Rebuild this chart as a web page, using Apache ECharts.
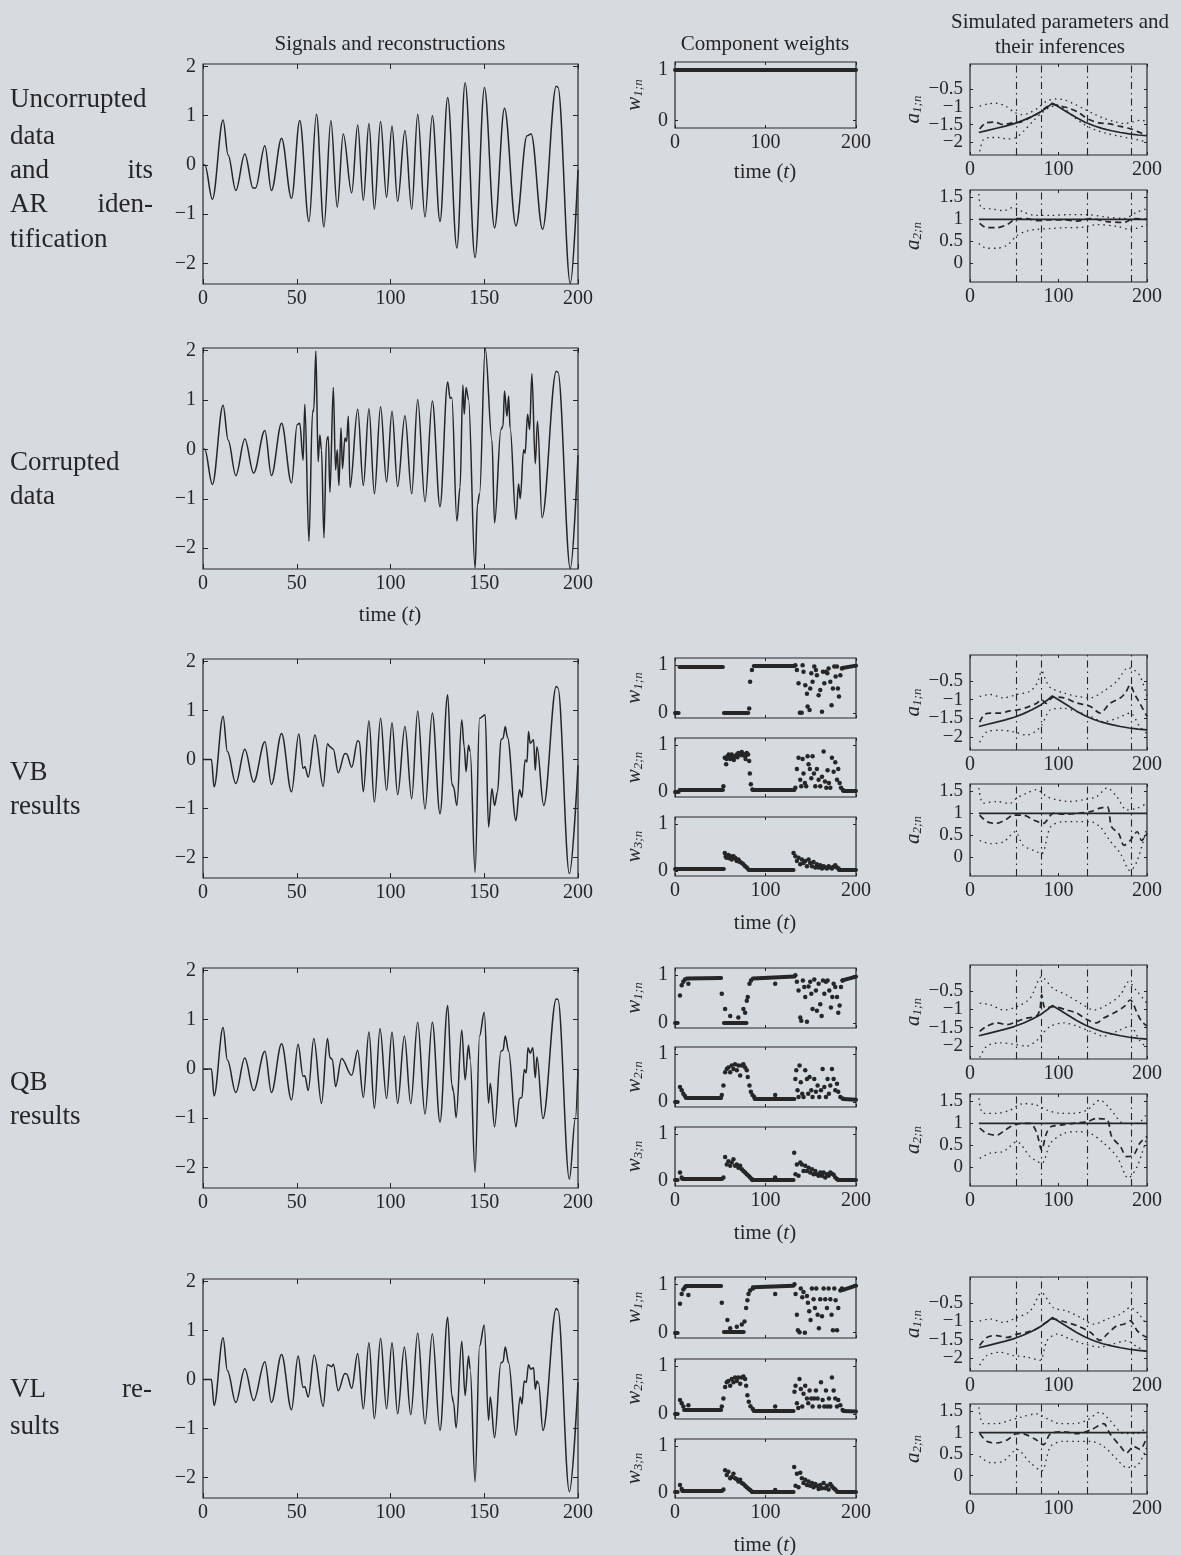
<!DOCTYPE html>
<html><head><meta charset="utf-8">
<script src="https://cdn.jsdelivr.net/npm/echarts@6/dist/echarts.min.js"></script>
<style>html,body{margin:0;padding:0;background:#d6dbe0;}#c{width:1181px;height:1555px;}</style>
</head><body><div id="c"></div>
<script>
// ---------------- DATA ----------------
const rowLabels = ['Uncorrupted data and its AR identification', 'Corrupted data', 'VB results', 'QB results', 'VL results'];
const sigYTicks = [-2, -1, 0, 1, 2];
const wYTicks = [0, 1];
const a1Ticks = [-2, -1.5, -1, -0.5];
const a2Ticks = [0, 0.5, 1, 1.5];
const changePoints = [52, 81, 132, 182];

const sigUncorrupted = [[0,0],[1,0],[5,-0.7],[10.7,0.91],[13.4,0.2],[17.5,-0.52],[22.3,0.22],[26.7,-0.47],[28,-0.47],[33,0.39],[36.5,-0.52],[41.9,0.54],[47.2,-0.68],[51.6,0.9],[56.5,-1.15],[60.5,1.03],[64.5,-1.26],[68.2,0.9],[71.6,-0.86],[74.8,0.63],[79.3,-0.57],[82.5,0.81],[85.5,-0.72],[88.5,0.84],[91.4,-0.9],[94.7,0.88],[97.9,-0.66],[100.8,0.79],[103.8,-0.74],[107.7,0.7],[111.3,-0.9],[114.5,1.03],[118.4,-1.06],[122.3,1.0],[126.4,-1.15],[130.5,1.37],[135.4,-1.69],[139.8,1.67],[145.1,-1.88],[150.1,1.57],[155.5,-1.28],[160.8,1.15],[166.9,-1.24],[172.8,0.59],[175,0.63],[181.1,-1.31],[188.4,1.6],[189.3,1.58],[195.9,-2.41],[200,-0.1]];
const sigCorrupted = [[0,0],[0.9,0],[5,-0.71],[10.7,0.89],[13.4,0.19],[17.5,-0.53],[22.3,0.21],[27,-0.48],[33,0.38],[36.5,-0.53],[41.9,0.53],[47.2,-0.68],[50.2,0.5],[51.6,0.53],[53.4,-0.22],[54.3,0.91],[56.5,-1.86],[58.4,0.74],[59.1,0.81],[60.2,1.99],[61.4,-0.25],[62.3,0.29],[63.2,-0.01],[64.5,-1.79],[65.9,0.19],[66.8,0.26],[67.7,-0.87],[69.5,1.25],[70.7,-0.42],[71.6,-0.01],[72.5,-0.73],[73.6,0.43],[74.4,-0.39],[75.7,0.23],[76.6,0.16],[77.5,0.67],[78.4,-0.77],[82.5,0.81],[85.5,-0.73],[88.5,0.82],[91.4,-0.9],[94.7,0.86],[97.9,-0.66],[100.8,0.77],[103.8,-0.75],[107.7,0.68],[111.3,-0.9],[114.5,1.01],[118.4,-1.06],[122.3,0.98],[126.4,-1.16],[130.5,1.36],[131.8,1.03],[132.7,1.05],[135.4,-1.45],[137.1,-0.77],[138.6,1.3],[139.3,0.71],[140.3,1.25],[141.6,1.01],[145.1,-2.4],[146.4,-1.11],[147.5,-0.9],[150.5,2.05],[154.1,0.19],[155.5,-1.49],[158.9,0.4],[160,0.47],[160.8,1.18],[162.1,0.67],[163,1.08],[163.8,0.43],[166.9,-1.42],[168.3,-0.7],[169.2,-1.0],[171,-0.01],[171.8,-0.08],[173.1,0.71],[174.2,0.4],[175.4,1.53],[177.2,-0.29],[178.4,0.57],[180.8,-1.38],[188.4,1.58],[189.3,1.56],[195.9,-2.41],[200,-0.12]];
const sigVB = [[0,0],[4.5,0],[5.9,-0.56],[10.7,0.88],[13,0.16],[17.5,-0.49],[22.3,0.21],[27,-0.46],[33,0.36],[36.5,-0.51],[41.9,0.53],[47.2,-0.66],[51.1,0.52],[53.4,-0.18],[54.3,-0.15],[56.1,-0.36],[59.7,0.5],[64.1,-0.55],[66.4,0.32],[67.7,0.26],[69.5,0.21],[72.1,-0.27],[75.7,0.12],[76.6,0.11],[79.3,-0.16],[82.5,0.38],[83.4,0.36],[85.5,-0.66],[88.5,0.79],[91.4,-0.87],[94.7,0.84],[97.9,-0.63],[100.8,0.75],[103.8,-0.72],[107.7,0.67],[111.3,-0.8],[114.5,0.99],[118.4,-1.01],[122.3,0.95],[126.4,-1.11],[130.5,1.32],[132.7,-0.49],[133.6,-0.56],[135.4,-0.94],[138,0.81],[139.3,0.26],[140.3,-0.25],[141.6,0.29],[142.5,0.16],[145.1,-2.31],[147.5,0.84],[150.5,0.91],[152.3,-1.38],[154.1,-0.6],[155.5,-0.94],[157.1,-0.66],[158.9,0.4],[160,0.43],[161.2,0.67],[162.4,0.45],[166.9,-1.25],[168.8,-0.62],[170.1,-0.77],[171.8,-0.01],[172.8,-0.05],[173.6,0.57],[174.5,0.33],[176.3,0.4],[177.2,-0.22],[178.1,0.26],[181.7,-0.94],[188.4,1.49],[189.3,1.46],[195.4,-2.33],[200,-0.12]];
const sigQB = [[0,0],[4.5,0],[5.9,-0.55],[10.7,0.84],[13,0.18],[17.5,-0.48],[22.3,0.22],[27,-0.44],[33,0.36],[36.5,-0.48],[41.9,0.51],[47.2,-0.63],[50.7,0.5],[53.4,-0.15],[54.3,-0.14],[56.1,-0.44],[59.1,0.62],[63.2,-0.7],[66.4,0.62],[67.7,0.23],[69,0.19],[70.7,-0.36],[73.9,0.21],[79.3,-0.13],[82.5,0.38],[85.5,-0.58],[88.5,0.75],[91.4,-0.8],[94.4,0.82],[97.9,-0.6],[100.8,0.75],[103.8,-0.7],[107.4,0.67],[110.8,-0.71],[114.5,0.95],[118.4,-0.92],[122.3,0.95],[126.4,-1.08],[130.5,1.29],[132.7,-0.32],[133.6,-0.46],[135,-0.99],[138,0.79],[139.8,-0.22],[141.6,0.48],[142.5,0.19],[145.1,-2.1],[147.5,0.67],[150,1.15],[152.3,-0.7],[153.2,-0.29],[155.5,-1.18],[158.9,0.36],[160,0.38],[161.2,0.67],[163,0.36],[166.9,-1.18],[168.8,-0.6],[170.1,-0.58],[171.3,-0.01],[172.4,-0.08],[173.3,0.43],[174.5,0.32],[175.9,0.43],[177.2,-0.18],[178.1,0.24],[181.3,-1.01],[188.4,1.42],[189.3,1.41],[195.4,-2.24],[198.6,-1.01],[200,0]];
const sigVL = [[0,0],[4.5,0],[5.9,-0.53],[10.7,0.85],[13,0.18],[17.5,-0.47],[22.3,0.22],[27,-0.43],[33,0.36],[36.5,-0.47],[41.9,0.51],[47.2,-0.62],[50.7,0.48],[53.4,-0.16],[54.3,-0.15],[56.1,-0.36],[59.3,0.5],[64.1,-0.55],[66.4,0.3],[67.7,0.28],[68.6,0.26],[69.5,0.31],[72.1,-0.23],[75.7,0.12],[76.6,0.11],[79.3,-0.18],[82.5,0.53],[85.5,-0.6],[88.5,0.75],[91.4,-0.8],[94.7,0.84],[97.9,-0.6],[100.8,0.75],[103.8,-0.7],[107.4,0.66],[110.8,-0.72],[114.5,0.95],[118.4,-0.91],[122.3,0.93],[126.4,-1.04],[130.5,1.27],[132.7,-0.33],[133.6,-0.47],[135,-0.99],[138,0.78],[139.8,-0.33],[141.6,0.48],[142.5,0.21],[145.1,-2.09],[147.5,0.68],[150,1.11],[152.3,-0.84],[153.2,-0.36],[155.5,-1.19],[158.9,0.34],[160,0.36],[161.2,0.66],[163,0.34],[166.9,-1.14],[169.2,-0.36],[170.1,-0.5],[171.3,-0.03],[172.4,-0.06],[173.6,0.3],[174.8,0.21],[176.3,0.24],[177.2,-0.2],[178.1,-0.03],[179,-0.09],[181.3,-1.04],[188.4,1.45],[189.3,1.41],[195.4,-2.29],[200,-0.06]];

// true AR parameters
const trueA1 = [[10,-1.72],[20,-1.66],[30,-1.6],[40,-1.54],[50,-1.47],[60,-1.38],[70,-1.27],[80,-1.14],[88,-1.0],[93,-0.9],[100,-1.0],[110,-1.15],[120,-1.3],[130,-1.43],[140,-1.53],[150,-1.61],[160,-1.67],[170,-1.72],[180,-1.76],[190,-1.79],[200,-1.81]];
const trueA2 = [[10,1],[200,1]];

// AR identification of uncorrupted data
const a1Est_AR = [[11,-1.62],[18,-1.45],[28,-1.43],[38,-1.5],[48,-1.45],[58,-1.42],[68,-1.3],[78,-1.17],[87,-1.0],[94,-0.93],[102,-0.98],[112,-1.04],[122,-1.15],[134,-1.35],[146,-1.45],[158,-1.48],[170,-1.55],[182,-1.62],[192,-1.72],[200,-1.8]];
const a1Hi_AR = [[11,-0.98],[20,-0.92],[30,-0.9],[40,-0.98],[50,-1.15],[58,-1.22],[66,-1.18],[76,-1.05],[86,-0.85],[96,-0.78],[106,-0.8],[116,-0.9],[128,-1.05],[140,-1.2],[152,-1.33],[164,-1.42],[174,-1.47],[184,-1.42],[192,-1.38],[200,-1.4]];
const a1Lo_AR = [[11,-2.25],[15,-1.92],[22,-1.86],[32,-1.86],[42,-1.9],[52,-1.86],[62,-1.65],[72,-1.38],[82,-1.15],[90,-1.02],[98,-0.96],[108,-1.08],[118,-1.3],[128,-1.48],[140,-1.63],[155,-1.75],[168,-1.82],[180,-1.88],[190,-1.93],[200,-1.98]];
const a2Est_AR = [[11,0.91],[19,0.81],[30,0.81],[42,0.88],[53,1.02],[64,1.02],[75,0.97],[91,0.99],[106,0.99],[121,0.96],[136,1.02],[155,0.95],[174,0.93],[185,1.02],[200,1.0]];
const a2Hi_AR = [[10,1.58],[13,1.26],[23,1.24],[38,1.2],[49,1.27],[60,1.17],[75,1.09],[91,1.09],[113,1.11],[132,1.11],[151,1.06],[174,1.02],[189,1.17],[200,1.24]];
const a2Lo_AR = [[10,0.45],[19,0.34],[30,0.34],[42,0.41],[53,0.63],[64,0.73],[75,0.77],[91,0.79],[106,0.81],[128,0.82],[143,0.88],[166,0.84],[181,0.77],[200,0.88]];

// VB
const a1Est_VB = [[11,-1.6],[16,-1.4],[23,-1.36],[34,-1.36],[45,-1.3],[55,-1.27],[65,-1.2],[75,-1.1],[81,-1.0],[86,-1.1],[94,-0.93],[106,-0.95],[121,-1.09],[136,-1.18],[147,-1.36],[158,-1.1],[170,-0.95],[176,-0.8],[181,-0.6],[186,-0.85],[192,-1.1],[200,-1.45]];
const a1Hi_VB = [[11,-0.91],[23,-0.86],[38,-0.95],[53,-0.86],[68,-0.77],[76,-0.55],[81,-0.23],[86,-0.5],[91,-0.68],[106,-0.82],[121,-0.91],[136,-0.95],[151,-0.77],[166,-0.5],[179,-0.14],[191,-0.32],[200,-0.91]];
const a1Lo_VB = [[11,-2.14],[19,-1.86],[34,-1.82],[49,-1.86],[64,-1.95],[74,-1.85],[81,-1.68],[91,-1.27],[106,-1.23],[121,-1.32],[136,-1.45],[151,-1.59],[166,-1.5],[181,-1.36],[192,-1.73],[200,-1.91]];
const a2Est_VB = [[11,0.96],[19,0.81],[30,0.77],[40,0.85],[49,0.96],[60,0.96],[72,0.85],[83,0.77],[94,1.0],[106,0.98],[121,1.0],[136,1.04],[147,1.12],[155,1.15],[160,0.69],[168,0.54],[174,0.27],[181,0.38],[189,0.58],[194,0.38],[200,0.55]];
const a2Hi_VB = [[10,1.58],[15,1.23],[30,1.27],[45,1.23],[53,1.35],[64,1.46],[75,1.54],[87,1.38],[98,1.31],[113,1.27],[128,1.31],[143,1.38],[155,1.58],[166,1.38],[177,1.08],[189,1.12],[200,1.23]];
const a2Lo_VB = [[11,0.38],[23,0.31],[38,0.35],[51,0.58],[60,0.27],[72,0.15],[81,0.08],[91,0.69],[106,0.81],[121,0.81],[136,0.81],[147,0.69],[158,0.38],[170,0.08],[181,-0.31],[189,-0.08],[200,0.69]];

// QB
const a1Est_QB = [[11,-1.6],[19,-1.46],[30,-1.37],[42,-1.42],[53,-1.33],[64,-1.24],[75,-1.19],[79,-1.0],[81,-0.61],[85,-0.97],[94,-0.93],[109,-1.02],[121,-1.11],[132,-1.28],[143,-1.37],[151,-1.24],[162,-1.11],[174,-0.93],[181,-0.75],[189,-1.11],[194,-1.33],[200,-1.46]];
const a1Hi_QB = [[11,-0.84],[23,-0.88],[38,-1.02],[53,-0.93],[68,-0.7],[81,-0.12],[94,-0.44],[109,-0.61],[125,-0.84],[140,-1.02],[155,-0.88],[170,-0.61],[179,-0.26],[189,-0.52],[200,-0.84]];
const a1Lo_QB = [[11,-2.31],[19,-2.0],[34,-1.91],[49,-1.95],[64,-2.0],[75,-1.86],[81,-1.69],[91,-1.46],[106,-1.37],[121,-1.46],[136,-1.6],[151,-1.73],[166,-1.6],[181,-1.46],[192,-1.86],[200,-2.04]];
const a2Est_QB = [[11,0.89],[19,0.77],[30,0.73],[40,0.85],[49,0.96],[60,1.0],[68,1.0],[75,0.81],[81,0.39],[86,0.75],[91,0.92],[102,0.96],[117,1.0],[132,1.04],[143,1.11],[155,1.08],[160,0.7],[170,0.47],[177,0.24],[185,0.28],[192,0.55],[200,0.7]];
const a2Hi_QB = [[10,1.57],[15,1.23],[30,1.23],[45,1.3],[60,1.45],[75,1.42],[87,1.3],[102,1.23],[117,1.23],[132,1.3],[147,1.53],[158,1.34],[174,1.0],[189,1.0],[200,1.23]];
const a2Lo_QB = [[11,0.2],[23,0.32],[38,0.36],[53,0.58],[68,0.24],[81,0.09],[91,0.55],[106,0.77],[121,0.81],[136,0.77],[151,0.55],[166,0.24],[179,-0.25],[189,0.02],[200,0.7]];

// VL
const a1Est_VL = [[11,-1.66],[19,-1.44],[30,-1.39],[42,-1.44],[53,-1.35],[64,-1.3],[75,-1.21],[83,-1.08],[94,-0.94],[109,-1.03],[121,-1.12],[136,-1.3],[147,-1.52],[155,-1.35],[166,-1.12],[174,-1.08],[181,-0.99],[189,-1.26],[196,-1.39],[200,-1.44]];
const a1Hi_VL = [[11,-0.99],[23,-0.94],[38,-1.03],[53,-0.9],[68,-0.72],[81,-0.23],[94,-0.63],[109,-0.72],[125,-0.9],[140,-1.08],[155,-0.94],[170,-0.81],[181,-0.63],[191,-0.81],[200,-1.12]];
const a1Lo_VL = [[11,-2.19],[19,-1.93],[34,-1.84],[49,-1.93],[64,-1.97],[79,-2.06],[87,-1.53],[98,-1.35],[113,-1.48],[128,-1.61],[147,-1.7],[162,-1.61],[177,-1.53],[189,-1.7],[200,-1.84]];
const a2Est_VL = [[11,0.98],[19,0.8],[30,0.76],[42,0.83],[53,0.98],[64,0.95],[75,0.83],[83,0.72],[91,0.98],[106,1.02],[121,0.98],[136,1.06],[151,1.21],[158,0.98],[170,0.68],[177,0.53],[185,0.68],[192,0.61],[200,0.91]];
const a2Hi_VL = [[10,1.59],[15,1.21],[30,1.21],[45,1.29],[57,1.36],[75,1.44],[87,1.33],[102,1.21],[117,1.21],[132,1.29],[147,1.48],[158,1.29],[174,0.98],[189,0.98],[200,1.14]];
const a2Lo_VL = [[11,0.45],[23,0.3],[38,0.34],[53,0.61],[68,0.3],[81,0.11],[91,0.68],[106,0.8],[121,0.8],[136,0.8],[151,0.68],[166,0.38],[177,0.19],[189,0.23],[200,0.68]];

// component weights: flat runs [t0, w0, t1, w1] and individual points [t, w]
const w1Flat_AR = [[0,1,200,1]];

const w1Flat_VB = [[0,0,4,0],[5,0.97,53,0.97],[54,0.01,81,0.01],[87,0.99,132,0.99],[185,0.94,200,0.99]];
const w1Dots_VB = [[82,0.09],[83,0.65],[85,0.9],[133,1.0],[134.7,0.9],[136.5,0.62],[138,0],[140,0],[141,1.0],[142,0.86],[144,0.58],[145.8,0.4],[146.5,0.13],[148.7,0.06],[149.4,0.51],[150.6,0.83],[152,0.65],[153.9,0.97],[155.7,0.9],[156.8,0.79],[158.7,0.37],[160.5,0.48],[162.4,0.02],[163.5,0.86],[165,0.62],[166.8,0.86],[168.3,0.83],[169.7,0.93],[171.6,0.65],[173,0.16],[174.5,0.51],[176,0.97],[177.5,0.76],[179,0.97],[180,0.51],[181.2,0.34],[182.7,0.79],[184.5,0.93]];
const w2Flat_VB = [[0,0,4,0],[5,0.05,53,0.05],[86,0.04,132,0.04],[186,0.03,200,0.03]];
const w2Dots_VB = [[53.5,0.12],[55,0.73],[56.5,0.59],[57,0.7],[58,0.76],[59.4,0.8],[60.9,0.7],[61,0.76],[62.7,0.8],[64.6,0.73],[65,0.68],[66.4,0.76],[68.3,0.8],[69,0.74],[70.1,0.83],[72,0.8],[73.8,0.85],[74,0.78],[75.6,0.81],[77.5,0.76],[78,0.7],[79.3,0.83],[80.8,0.8],[82,0.66],[82.7,0.39],[83.8,0.16],[85.6,0.05],[133,0.09],[134.7,0.49],[136.5,0.73],[138.4,0.26],[139.5,0.12],[141,0.7],[142,0.39],[143.5,0.19],[145,0.12],[146.5,0.76],[147.6,0.59],[149,0.49],[150.6,0.29],[152,0.76],[153.5,0.39],[155,0.12],[156.8,0.49],[158.7,0.26],[160.5,0.12],[162.4,0.32],[164.2,0.86],[165.7,0.22],[167.2,0.09],[168.6,0.46],[170.1,0.19],[171.6,0.09],[173.4,0.73],[175.3,0.43],[177.1,0.63],[179,0.26],[180.4,0.49],[181.9,0.19],[183.4,0.09],[185.6,0.04]];
const w3Flat_VB = [[0,0.04,54,0.04],[82,0.03,131,0.03],[181,0.03,200,0.03]];
const w3Dots_VB = [[55,0.38],[56,0.3],[57,0.28],[58,0.33],[59,0.34],[60,0.27],[61,0.31],[62.7,0.24],[63.5,0.3],[64.6,0.31],[66.4,0.28],[67.5,0.24],[68.3,0.21],[70.1,0.24],[71,0.2],[72,0.19],[73.8,0.17],[75.6,0.14],[77.5,0.1],[79.3,0.07],[81.2,0.03],[131,0.38],[133,0.31],[134.7,0.21],[136.5,0.28],[138.4,0.14],[140.2,0.24],[142,0.17],[143.9,0.21],[145.8,0.1],[147.6,0.24],[149.4,0.17],[151.3,0.1],[153.1,0.19],[155,0.07],[156.8,0.14],[158.7,0.07],[160.5,0.12],[162.4,0.05],[164.2,0.1],[166,0.07],[167.9,0.05],[169.7,0.1],[171.6,0.07],[173.4,0.05],[175.3,0.09],[177.1,0.12],[179,0.07],[180.8,0.05]];

const w1Flat_QB = [[0,0,3,0],[13,0.93,51,0.94],[54,0.01,79,0.01],[86,0.93,132,0.97],[185,0.89,200,0.97]];
const w1Dots_QB = [[5.5,0.57],[7.4,0.79],[9.2,0.86],[11,0.91],[14.8,0.82],[51.7,0.61],[55.4,0.29],[61,0.14],[70,0.11],[75.6,0.29],[77.5,0.21],[79.3,0.46],[80.4,0.54],[82.3,0.82],[84,0.89],[110.7,0.82],[133,1.0],[134.7,0.86],[136.5,0.68],[138.4,0.11],[139.5,0.04],[141.3,0.89],[142.8,0.75],[143.9,0.54],[145.8,0.02],[147.6,0.76],[149.4,0.86],[150.6,0.61],[152,0.29],[153.9,0.91],[155.7,0.68],[156.8,0.25],[158.7,0.82],[160.5,0.39],[162,0.14],[163.5,0.89],[165,0.61],[166.8,0.86],[168.6,0.89],[170.5,0.68],[172.3,0.32],[173.8,0.54],[175.3,0.82],[177.1,0.75],[179,0.54],[180.4,0.21],[181.9,0.36],[183.4,0.75],[185.2,0.89]];
const w2Flat_QB = [[0,0.01,3,0.01],[12,0.08,51,0.08],[88,0.07,132,0.07],[186,0.06,200,0.04]];
const w2Dots_QB = [[5.5,0.31],[7.4,0.24],[9.2,0.17],[11,0.12],[51.7,0.14],[53.5,0.34],[55.4,0.62],[57.2,0.69],[59,0.72],[61,0.62],[62.7,0.76],[64.6,0.69],[66.4,0.79],[68.3,0.66],[70.1,0.76],[72,0.55],[73.8,0.76],[75.6,0.79],[77.5,0.72],[79.3,0.66],[80.4,0.52],[82.3,0.34],[83.8,0.21],[85.6,0.14],[87.5,0.1],[110.7,0.14],[133,0.48],[134,0.66],[135.4,0.24],[136.5,0.1],[137.6,0.76],[139,0.41],[140.6,0.17],[142,0.1],[143.9,0.66],[145.8,0.48],[147.2,0.17],[148.7,0.52],[150.6,0.24],[152,0.1],[153.9,0.48],[155.7,0.21],[157.6,0.34],[159.4,0.1],[161.3,0.24],[163.1,0.69],[165,0.31],[166.8,0.1],[168.6,0.48],[170.1,0.17],[171.6,0.34],[173.4,0.69],[175.3,0.48],[177.1,0.24],[179,0.38],[180.4,0.21],[182.7,0.1],[185.2,0.07]];
const w3Flat_QB = [[0,0.02,3,0.02],[8,0.05,52,0.05],[85,0.03,131,0.03],[180,0.03,200,0.03]];
const w3Dots_QB = [[5.5,0.18],[7.4,0.07],[53.5,0.07],[55.4,0.51],[57.2,0.35],[59,0.42],[61,0.32],[62.7,0.39],[64.6,0.46],[66.4,0.32],[68.3,0.35],[70.1,0.28],[72,0.32],[73.8,0.25],[75.6,0.21],[77.5,0.18],[79.3,0.14],[81.2,0.11],[83,0.07],[84.9,0.04],[110.7,0.07],[131.7,0.6],[133.2,0.14],[134.7,0.35],[136.5,0.11],[138.4,0.39],[140.2,0.35],[142,0.21],[143.9,0.32],[145.8,0.21],[147.6,0.28],[149.4,0.18],[151.3,0.25],[153.1,0.14],[155,0.21],[156.8,0.14],[158.7,0.11],[160.5,0.18],[162.4,0.11],[164.2,0.18],[166,0.07],[167.9,0.14],[169.7,0.11],[171.6,0.18],[173.4,0.15],[175.3,0.13],[177.1,0.07],[179,0.04]];

const w1Flat_VL = [[0,0,3,0],[12,0.96,51,0.96],[54,0.02,76,0.02],[86,0.94,131,0.97],[185,0.88,200,0.97]];
const w1Dots_VL = [[5.5,0.6],[7.4,0.8],[9.2,0.89],[11,0.94],[14.8,0.78],[51.7,0.62],[57.9,0.26],[61,0.09],[68.3,0.12],[73.8,0.17],[76.8,0.23],[78.6,0.51],[80,0.67],[81.2,0.8],[83,0.87],[86,0.91],[110.7,0.8],[132,1.0],[133.2,0.8],[134.7,0.37],[135.8,0.05],[137.6,0.01],[139,0.91],[140.6,0.73],[142,0.84],[143.5,0],[145.8,0.76],[146.9,0.62],[148.3,0.44],[149.8,0.26],[151.3,0.91],[153.1,0.69],[154.6,0.51],[156.1,0.91],[157.6,0.37],[159,0.09],[160.5,0.69],[162.4,0.34],[164.2,0.91],[166,0.69],[167.9,0.51],[169.7,0.91],[171.6,0.69],[173,0.37],[174.5,0.05],[176,0.91],[177.5,0.67],[179,0.05],[180.4,0.51],[182.7,0.87],[184.5,0.91]];
const w2Flat_VL = [[0,0.01,3,0.01],[10,0.08,51,0.08],[87,0.07,131,0.07],[186,0.06,200,0.05]];
const w2Dots_VL = [[5.5,0.29],[7.4,0.22],[9.2,0.15],[14.8,0.18],[51.7,0.15],[53.5,0.32],[55.4,0.56],[57.2,0.66],[59,0.69],[61,0.59],[62.7,0.73],[64.6,0.66],[66.4,0.76],[68.3,0.69],[70.1,0.76],[72,0.63],[73.8,0.76],[75.6,0.78],[77.5,0.73],[78.6,0.59],[80,0.39],[81.5,0.25],[83.4,0.16],[86,0.1],[110.7,0.15],[132,0.46],[133.2,0.59],[134.7,0.22],[136.2,0.12],[137.6,0.73],[139,0.52],[140.6,0.15],[142,0.42],[143.9,0.59],[145.8,0.32],[147.2,0.22],[148.7,0.49],[150.6,0.32],[152,0.15],[153.9,0.32],[155.7,0.49],[157.6,0.32],[159.4,0.15],[161.3,0.66],[163.1,0.29],[165,0.15],[166.8,0.49],[168.6,0.15],[170.1,0.32],[171.6,0.15],[173.4,0.76],[175.3,0.49],[177.1,0.32],[179,0.15],[180.4,0.29],[182.7,0.18],[185.2,0.08]];
const w3Flat_VL = [[0,0.02,3,0.02],[8,0.05,52,0.05],[85,0.03,131,0.03],[180,0.03,200,0.03]];
const w3Dots_VL = [[5.5,0.17],[7.4,0.08],[53.5,0.07],[55.4,0.48],[57.2,0.38],[59,0.45],[61,0.31],[62.7,0.34],[64.6,0.41],[66.4,0.31],[68.3,0.29],[70.1,0.24],[72,0.28],[73.8,0.21],[75.6,0.19],[77.5,0.15],[79.3,0.12],[81.2,0.09],[83,0.06],[84.9,0.03],[110.7,0.06],[131.7,0.55],[133.2,0.15],[134.7,0.41],[136.5,0.12],[138.4,0.43],[140.2,0.31],[142,0.21],[143.9,0.28],[145.8,0.17],[147.6,0.24],[149.4,0.15],[151.3,0.21],[153.1,0.12],[155,0.19],[156.8,0.15],[158.7,0.08],[160.5,0.17],[162.4,0.1],[164.2,0.21],[166,0.1],[167.9,0.15],[169.7,0.07],[171.6,0.19],[173.4,0.14],[175.3,0.1],[177.1,0.07],[179,0.03]];

// ---------------- BUILD ----------------
const INK = '#262626';
const FONT = '"Liberation Serif", "Times New Roman", serif';
const grids = [], xAxes = [], yAxes = [], series = [];

function fmtNum(v) { return (v < 0 ? '\u2212' : '') + Math.abs(v); }

function addPanel(rect, o) {
  const gi = grids.length;
  grids.push({left: rect[0], top: rect[1], width: rect[2], height: rect[3], show: true,
    borderColor: INK, borderWidth: 1.2, backgroundColor: 'rgba(0,0,0,0)'});
  const xi = xAxes.length, yi = yAxes.length;
  const xb = () => ({type: 'value', gridIndex: gi, min: 0, max: 200, interval: o.xint,
    axisLine: {show: false, onZero: false}, splitLine: {show: false},
    axisTick: {show: true, inside: true, length: o.tick, lineStyle: {color: INK, width: 1}}});
  xAxes.push(Object.assign(xb(), {position: 'bottom',
    axisLabel: {show: o.xlabels !== false, color: INK, fontFamily: FONT, fontSize: 20, margin: 5,
      formatter: fmtNum, hideOverlap: false}}));
  xAxes.push(Object.assign(xb(), {position: 'top', axisLabel: {show: false}}));
  const yb = () => ({type: 'value', gridIndex: gi, min: o.ymin, max: o.ymax,
    axisLine: {show: false, onZero: false}, splitLine: {show: false},
    axisTick: {show: true, inside: true, length: o.tick, customValues: o.yticks, lineStyle: {color: INK, width: 1}}});
  // labels may be split over two co-located left axes so that closely spaced labels are all kept
  const labSets = o.ylabelSets || [o.yticks];
  const mkLabel = (vals) => ({show: true, customValues: vals, color: INK, fontFamily: FONT, fontSize: o.yfont || 20,
      interval: 0, margin: 7, formatter: fmtNum, hideOverlap: false, showMinLabel: true, showMaxLabel: true});
  const yl = Object.assign(yb(), {position: 'left', axisLabel: mkLabel(labSets[0])});
  if (o.name) {
    yl.name = '{i|' + o.name[0] + '}{s|' + o.name[1] + '}';
    yl.nameLocation = 'middle';
    yl.nameRotate = 90;
    yl.nameGap = o.nameGap;
    yl.nameTextStyle = {rich: {
      i: {fontFamily: FONT, fontStyle: 'italic', fontSize: 21, color: INK, lineHeight: 22, verticalAlign: 'middle'},
      s: {fontFamily: FONT, fontStyle: 'italic', fontSize: 13, color: INK, lineHeight: 12, verticalAlign: 'bottom'}
    }};
  }
  yAxes.push(yl);
  yAxes.push(Object.assign(yb(), {position: 'right', axisLabel: {show: false}}));
  for (let i = 1; i < labSets.length; i++) {
    yAxes.push(Object.assign(yb(), {position: 'left', offset: 0, axisTick: {show: false},
      axisLabel: mkLabel(labSets[i])}));
  }
  return {x: xi, y: yi};
}

function line(ax, data, style, extra) {
  const s = Object.assign({type: 'line', xAxisIndex: ax.x, yAxisIndex: ax.y, data: data,
    symbol: 'none', showSymbol: false, clip: true, silent: true, animation: false,
    lineStyle: Object.assign({color: INK, width: 1.5}, style)}, extra || {});
  series.push(s);
  return s;
}

// signal panels
const sigRects = [[203,64,375,220],[203,348,375,221],[203,659,375,219],[203,968,375,220],[203,1279,375,219]];
const signals = [sigUncorrupted, sigCorrupted, sigVB, sigQB, sigVL];
signals.forEach((sig, k) => {
  const ax = addPanel(sigRects[k], {xint: 50, ymin: -2.42, ymax: 2.05, yticks: sigYTicks, tick: 5});
  line(ax, sig, {width: 1.5}, {smooth: 0.35, smoothMonotone: 'x'});
});

// weight panels
function weightPanel(rect, k, flats, dots, ymin, ymax, xlabels) {
  const ax = addPanel(rect, {xint: 100, ymin: ymin, ymax: ymax, yticks: wYTicks, tick: 3,
    name: ['w', k + ';n'], nameGap: 30, xlabels: xlabels});
  series.push({type: 'lines', coordinateSystem: 'cartesian2d', xAxisIndex: ax.x, yAxisIndex: ax.y,
    polyline: false, silent: true, animation: false,
    lineStyle: {color: INK, width: 4, opacity: 1, cap: 'round'},
    data: flats.map(f => ({coords: [[f[0], f[1]], [f[2], f[3]]]}))});
  if (dots) series.push({type: 'scatter', xAxisIndex: ax.x, yAxisIndex: ax.y, data: dots,
    symbol: 'circle', symbolSize: 4.5, itemStyle: {color: INK, opacity: 1}, silent: true, animation: false});
}
weightPanel([675,62,181,66], 1, w1Flat_AR, null, -0.15, 1.15, true);
const wSets = [
  {tops: [[658,60],[738,59],[817,59]], flats: [w1Flat_VB, w2Flat_VB, w3Flat_VB], dots: [w1Dots_VB, w2Dots_VB, w3Dots_VB]},
  {tops: [[968,60],[1047,60],[1127,59]], flats: [w1Flat_QB, w2Flat_QB, w3Flat_QB], dots: [w1Dots_QB, w2Dots_QB, w3Dots_QB]},
  {tops: [[1277,61],[1359,60],[1439,59]], flats: [w1Flat_VL, w2Flat_VL, w3Flat_VL], dots: [w1Dots_VL, w2Dots_VL, w3Dots_VL]}
];
wSets.forEach(set => {
  for (let k = 0; k < 3; k++) {
    weightPanel([675, set.tops[k][0], 181, set.tops[k][1]], k + 1, set.flats[k], set.dots[k], -0.11, 1.15, k === 2);
  }
});

// parameter panels
function paramPanel(rect, which, trueData, est, hi, lo) {
  const isA1 = which === 1;
  const ticks = isA1 ? a1Ticks : a2Ticks;
  const ax = addPanel(rect, {xint: 100, ymin: isA1 ? -2.35 : -0.43, ymax: isA1 ? 0.2 : 1.67,
    yticks: ticks, tick: 3, name: ['a', which + ';n'], nameGap: 46, yfont: 19,
    ylabelSets: [ticks.filter((v, i) => i % 2 === 0), ticks.filter((v, i) => i % 2 === 1)]});
  line(ax, trueData, {width: 1.7}, {markLine: {symbol: 'none', silent: true, animation: false,
    label: {show: false}, lineStyle: {color: INK, width: 1.1, type: [7, 4, 1.5, 4]},
    data: changePoints.map(v => ({xAxis: v}))}});
  line(ax, est, {width: 1.7, type: [6, 4]}, {smooth: 0.3});
  line(ax, hi, {width: 1.3, type: [1.5, 4]}, {smooth: 0.3});
  line(ax, lo, {width: 1.3, type: [1.5, 4]}, {smooth: 0.3});
}
const pSets = [
  {r1: [970,64,177,91], r2: [970,190,177,92], a1: [a1Est_AR, a1Hi_AR, a1Lo_AR], a2: [a2Est_AR, a2Hi_AR, a2Lo_AR]},
  {r1: [970,655,177,95], r2: [970,784,177,92], a1: [a1Est_VB, a1Hi_VB, a1Lo_VB], a2: [a2Est_VB, a2Hi_VB, a2Lo_VB]},
  {r1: [970,965,177,94], r2: [970,1094,177,92], a1: [a1Est_QB, a1Hi_QB, a1Lo_QB], a2: [a2Est_QB, a2Hi_QB, a2Lo_QB]},
  {r1: [970,1277,177,94], r2: [970,1404,177,90], a1: [a1Est_VL, a1Hi_VL, a1Lo_VL], a2: [a2Est_VL, a2Hi_VL, a2Lo_VL]}
];
pSets.forEach(p => {
  paramPanel(p.r1, 1, trueA1, p.a1[0], p.a1[1], p.a1[2]);
  paramPanel(p.r2, 2, trueA2, p.a2[0], p.a2[1], p.a2[2]);
});

// texts
function txt(x, y, s, size, align, rich) {
  const st = {text: s, fontSize: size, fontFamily: FONT, fill: INK,
    align: align || 'center', verticalAlign: 'middle', textAlign: align || 'center', textVerticalAlign: 'middle'};
  if (rich) st.rich = rich;
  return {type: 'text', x: x, y: y, silent: true, style: st};
}
const itRich = {it: {fontStyle: 'italic', fontSize: 21, fontFamily: FONT, fill: INK, color: INK}};
const graphics = [
  txt(390, 44, 'Signals and reconstructions', 21),
  txt(765, 44, 'Component weights', 21),
  txt(1060, 22, 'Simulated parameters and', 21),
  txt(1060, 47, 'their inferences', 21),
  txt(390, 615, 'time ({it|t})', 21, 'center', itRich),
  txt(765, 172, 'time ({it|t})', 21, 'center', itRich),
  txt(765, 923, 'time ({it|t})', 21, 'center', itRich),
  txt(765, 1233, 'time ({it|t})', 21, 'center', itRich),
  txt(765, 1545, 'time ({it|t})', 21, 'center', itRich),
  // row labels (justified narrow column)
  txt(10, 100, 'Uncorrupted', 27, 'left'),
  txt(10, 137, 'data', 27, 'left'),
  txt(10, 171, 'and', 27, 'left'), txt(153, 171, 'its', 27, 'right'),
  txt(10, 205, 'AR', 27, 'left'), txt(153, 205, 'iden-', 27, 'right'),
  txt(10, 240, 'tification', 27, 'left'),
  txt(10, 463, 'Corrupted', 27, 'left'),
  txt(10, 497, 'data', 27, 'left'),
  txt(10, 773, 'VB', 27, 'left'),
  txt(10, 807, 'results', 27, 'left'),
  txt(10, 1083, 'QB', 27, 'left'),
  txt(10, 1117, 'results', 27, 'left'),
  txt(10, 1390, 'VL', 27, 'left'), txt(152, 1390, 're-', 27, 'right'),
  txt(10, 1427, 'sults', 27, 'left')
];

const chart = echarts.init(document.getElementById('c'), null, {renderer: 'canvas'});
chart.setOption({
  backgroundColor: '#d6dbe0',
  animation: false,
  textStyle: {fontFamily: FONT, color: INK},
  grid: grids, xAxis: xAxes, yAxis: yAxes, series: series, graphic: graphics
});
</script></body></html>
